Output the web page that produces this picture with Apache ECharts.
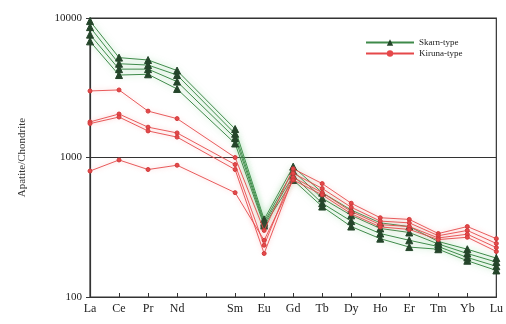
<!DOCTYPE html>
<html><head><meta charset="utf-8">
<script src="https://cdn.jsdelivr.net/npm/echarts@6/dist/echarts.min.js"></script>
<style>html,body{margin:0;padding:0;background:#fff}#c{width:506px;height:324px}</style>
</head><body><div id="c"></div>
<script>
const categories = ['La','Ce','Pr','Nd','Pm','Sm','Eu','Gd','Tb','Dy','Ho','Er','Tm','Yb','Lu'];
const yTicks = [100, 1000, 10000];
// Skarn-type (green, triangles)
const skarn1 = [9500,5200,5000,4200,'-',1600,360,860,560,420,340,320,250,220,190];
const skarn2 = [8600,4700,4600,3900,'-',1480,345,800,510,385,310,290,240,205,178];
const skarn3 = [7600,4300,4300,3500,'-',1380,335,740,470,350,285,255,230,192,166];
const skarn4 = [6800,3900,3950,3100,'-',1260,325,690,445,320,262,228,220,182,155];
// Kiruna-type (red, circles)
const kiruna1 = [3000,3050,2150,1900,'-',1000,300,830,650,470,370,360,285,320,262];
const kiruna2 = [1800,2050,1650,1500,'-',890,235,770,600,440,350,340,275,300,242];
const kiruna3 = [1750,1950,1550,1400,'-',820,205,720,560,410,330,320,265,282,226];
const kiruna4 = [800,960,820,880,'-',560,255,690,540,395,318,305,258,268,212];

const green = '#3f8a4a', red = '#e5484a';
function gs(name, data){
  return {name:'Skarn-type', type:'line', data, connectNulls:true, symbol:'triangle', symbolSize:7,
    itemStyle:{color:'#24452a', borderColor:'#24452a'},
    lineStyle:{color:green, width:1, shadowBlur:6, shadowColor:'rgba(80,185,100,0.6)'}, z:3};
}
function rs(name, data){
  return {name:'Kiruna-type', type:'line', data, connectNulls:true, symbol:'circle', symbolSize:4,
    itemStyle:{color:red, borderColor:'#d03a3a'},
    lineStyle:{color:red, width:0.9, shadowBlur:5, shadowColor:'rgba(245,130,130,0.55)'}, z:4};
}
const chart = echarts.init(document.getElementById('c'), null, {renderer:'canvas'});
chart.setOption({
  animation:false,
  textStyle:{fontFamily:'Liberation Serif'},
  grid:{left:90, right:9, top:18, bottom:27, show:true, borderColor:'#333', borderWidth:1.2},
  legend:{orient:'vertical', left:360, top:33, itemGap:2, itemWidth:48, itemHeight:8,
    textStyle:{fontFamily:'Liberation Serif', fontSize:9, color:'#222'},
    data:['Skarn-type','Kiruna-type']},
  xAxis:{type:'category', data:categories, boundaryGap:false,
    axisLine:{lineStyle:{color:'#333', width:1.2}},
    axisTick:{inside:true, length:4, lineStyle:{color:'#333'}},
    axisLabel:{fontFamily:'Liberation Serif', fontSize:12, color:'#222', margin:6,
      formatter:v => v==='Pm' ? '' : v, interval:0},
    splitLine:{show:false}},
  yAxis:{type:'log', logBase:10, min:yTicks[0], max:yTicks[2],
    name:'Apatite/Chondrite', nameLocation:'middle', nameGap:62,
    nameTextStyle:{fontFamily:'Liberation Serif', fontSize:11, color:'#333'},
    axisLine:{show:true, lineStyle:{color:'#333', width:1.2}},
    axisTick:{show:true, length:4, lineStyle:{color:'#333'}},
    axisLabel:{fontFamily:'Liberation Serif', fontSize:11, color:'#222', margin:8,
      formatter:v => String(Math.round(v))},
    minorTick:{show:false},
    splitLine:{show:true, lineStyle:{color:'#333', width:1.2}}},
  series:[gs('s1',skarn1),gs('s2',skarn2),gs('s3',skarn3),gs('s4',skarn4),
          rs('k1',kiruna1),rs('k2',kiruna2),rs('k3',kiruna3),rs('k4',kiruna4)]
});
</script></body></html>
